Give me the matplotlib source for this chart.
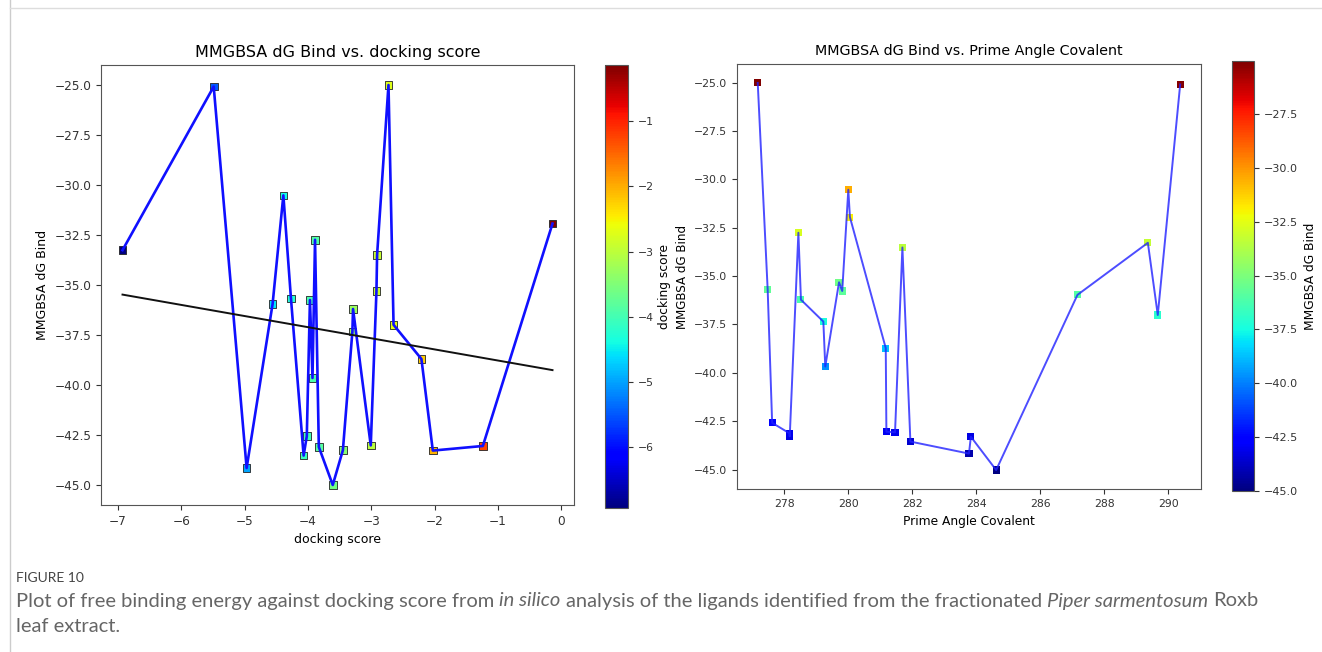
import numpy as np
import matplotlib
matplotlib.use('Agg')
import matplotlib.pyplot as plt
from matplotlib.lines import Line2D

# values, one entry per ligand
docking_score = [-3.61, -4.97, -4.07, -2.03, -3.45, -3.83, -1.24, -3.01, -4.02, -3.93,
                 -2.21, -3.30, -2.65, -3.29, -4.56, -3.97, -4.27, -2.92, -2.91, -6.93,
                 -3.89, -0.14, -4.39, -5.49, -2.73]
mmgbsa_dg = [-45.02, -44.17, -43.55, -43.30, -43.28, -43.12, -43.07, -43.04, -42.58, -39.67,
             -38.72, -37.35, -37.01, -36.22, -35.97, -35.77, -35.69, -35.32, -33.52, -33.28,
             -32.76, -31.95, -30.54, -25.10, -25.02]
prime_angle = [284.62, 283.77, 281.94, 283.83, 278.17, 278.16, 281.46, 281.19, 277.62, 279.28,
               281.17, 279.22, 289.67, 278.52, 287.16, 279.81, 277.48, 279.71, 281.69, 289.36,
               278.44, 280.05, 280.00, 290.37, 277.17]

title_left = "MMGBSA dG Bind vs. docking score"
title_right = "MMGBSA dG Bind vs. Prime Angle Covalent"
caption_head = "FIGURE 10"
caption_parts = [("Plot of free binding energy against docking score from", "normal"),
                 ("in silico", "italic"),
                 ("analysis of the ligands identified from the fractionated", "normal"),
                 ("Piper sarmentosum", "italic"),
                 ("Roxb", "normal")]
caption_line2 = "leaf extract."

W, H = 1322, 652
fig = plt.figure(figsize=(W / 100, H / 100), dpi=100)

dock = np.array(docking_score)
dg = np.array(mmgbsa_dg)
ang = np.array(prime_angle)

GREY = '#333333'

# ---- left panel: dG vs docking score, coloured by docking score
ax1 = fig.add_axes([0.0764, 0.2255, 0.3578, 0.6748])
sc1 = ax1.scatter(dock, dg, c=dock, cmap='jet', marker='s', s=30,
                  edgecolors='#222222', linewidths=0.6, zorder=2)
o = np.argsort(dock, kind='stable')
ax1.plot(dock[o], dg[o], color='#1010ff', lw=1.9, zorder=3)
k, b = np.polyfit(dock, dg, 1)
xs = np.array([dock.min(), dock.max()])
ax1.plot(xs, k * xs + b, color='#111111', lw=1.4, zorder=3)
ax1.set_title(title_left, fontsize=11.5)
ax1.set_xlabel("docking score", fontsize=9)
ax1.set_ylabel("MMGBSA dG Bind", fontsize=9)
ax1.tick_params(labelsize=8.7, colors=GREY, length=3.5)

cax1 = fig.add_axes([0.4576, 0.2209, 0.0174, 0.6794])
cb1 = fig.colorbar(sc1, cax=cax1)
cb1.set_label("docking score", fontsize=8.8, labelpad=3)
cb1.ax.tick_params(labelsize=7.8, colors=GREY, length=3.5)

# ---- right panel: dG vs prime angle, coloured by dG
ax2 = fig.add_axes([0.5572, 0.2494, 0.3515, 0.6531])
sc2 = ax2.scatter(ang, dg, c=dg, cmap='jet', marker='s', s=26, linewidths=0, zorder=2)
o = np.argsort(ang, kind='stable')
ax2.plot(ang[o], dg[o], color='#2020ff', alpha=0.8, lw=1.4, zorder=3)
ax2.set_title(title_right, fontsize=10.3)
ax2.set_xlabel("Prime Angle Covalent", fontsize=8.8)
ax2.set_ylabel("MMGBSA dG Bind", fontsize=8.6, labelpad=3)
ax2.tick_params(labelsize=7.8, colors=GREY, length=3.5)

cax2 = fig.add_axes([0.932, 0.247, 0.0166, 0.6595])
cb2 = fig.colorbar(sc2, cax=cax2)
cb2.set_label("MMGBSA dG Bind", fontsize=8.8)
cb2.ax.tick_params(labelsize=8, colors=GREY, length=3.5)

for a in (ax1, ax2, cax1, cax2):
    for s in a.spines.values():
        s.set_edgecolor('#555555')

# page borders
fig.add_artist(Line2D([10 / W, 10 / W], [0, 1], color='#cccccc', lw=1))
fig.add_artist(Line2D([10 / W, 1], [1 - 8 / H, 1 - 8 / H], color='#dddddd', lw=1))

# caption
cap_font = ['Lato', 'DejaVu Sans']
fig.text(16 / W, 1 - 578 / H, caption_head, fontsize=10, color='#444444',
         family=cap_font, va='center')
r = fig.canvas.get_renderer()


def width_of(s, style, size):
    t = fig.text(0, 0, s, fontsize=size, style=style, family=cap_font)
    w = t.get_window_extent(r).width
    t.remove()
    return w


size = 12.5
full = sum(width_of(p, st, size) for p, st in caption_parts)
gap = width_of("x x", "normal", size) - width_of("xx", "normal", size)
full += gap * (len(caption_parts) - 1)
size *= 1246 / full
gap = width_of("x x", "normal", size) - width_of("xx", "normal", size)

x = 16
for p, st in caption_parts:
    t = fig.text(x / W, 1 - 601 / H, p, fontsize=size, style=st, color='#666666',
                 family=cap_font, va='center')
    x += t.get_window_extent(r).width + gap
fig.text(16 / W, 1 - 626 / H, caption_line2, fontsize=size, color='#666666',
         family=cap_font, va='center')

fig.savefig("out.png", dpi=100)
